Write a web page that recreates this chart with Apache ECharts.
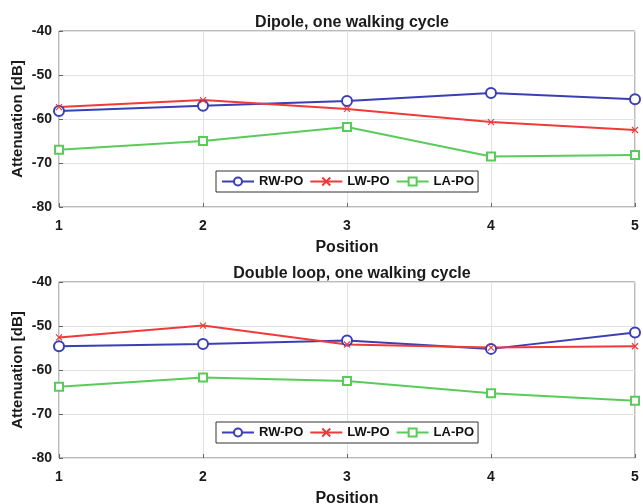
<!DOCTYPE html>
<html>
<head>
<meta charset="utf-8">
<script src="https://cdn.jsdelivr.net/npm/echarts@6/dist/echarts.min.js"></script>
<style>html,body{margin:0;padding:0;background:#fff}#c{width:643px;height:504px}</style>
</head>
<body>
<div id="c"></div>
<script>
const positions = [1, 2, 3, 4, 5];
const seriesNames = ['RW-PO', 'LW-PO', 'LA-PO'];
const titles = ['Dipole, one walking cycle', 'Double loop, one walking cycle'];
const yTicks = [-80, -70, -60, -50, -40];

const dipoleRW = [-58.2, -57.0, -55.9, -54.1, -55.5];
const dipoleLW = [-57.3, -55.7, -57.7, -60.7, -62.5];
const dipoleLA = [-67.0, -65.0, -61.8, -68.5, -68.2];

const loopRW = [-54.6, -54.1, -53.3, -55.2, -51.5];
const loopLW = [-52.6, -49.9, -54.2, -54.9, -54.6];
const loopLA = [-63.8, -61.7, -62.5, -65.3, -67.0];

const colors = ['#3a3fb3', '#f03a3a', '#5acb5a'];
const FONT = 'Liberation Sans';
const xSymbol = 'path://M0,0L10,10M10,0L0,10';
const symbols = ['emptyCircle', xSymbol, 'emptyRect'];
const symbolSizes = [10, 6, 8];
const borderWidths = [1.6, 1.2, 1.5];

const chart = echarts.init(document.getElementById('c'), null, {renderer: 'canvas'});
const grids = [
  {left: 59, width: 576, top: 31, height: 176},
  {left: 59, width: 576, top: 282, height: 176}
];
const pair = arr => positions.map((p, i) => [p, arr[i]]);
const data = [[dipoleRW, dipoleLW, dipoleLA], [loopRW, loopLW, loopLA]];

const series = [];
data.forEach((set, g) => {
  set.forEach((vals, k) => {
    series.push({
      name: seriesNames[k],
      type: 'line',
      xAxisIndex: g, yAxisIndex: g,
      data: pair(vals),
      symbol: symbols[k],
      symbolSize: symbolSizes[k],
      showAllSymbol: true,
      lineStyle: {color: colors[k], width: 2},
      itemStyle: {color: colors[k], borderColor: colors[k], borderWidth: borderWidths[k]},
      emphasis: {disabled: true},
      animation: false
    });
  });
});

const axisCommon = {
  axisLine: {show: false},
  axisTick: {show: true, inside: true, length: 4, lineStyle: {color: '#666'}},
  splitLine: {show: true, lineStyle: {color: '#e2e2e2', width: 1}},
};

chart.setOption({
  animation: false,
  title: titles.map((t, i) => ({
    text: t, left: 347, textAlign: 'center', top: i === 0 ? 10 : 261,
    textStyle: {fontFamily: FONT, fontWeight: 'bold', fontSize: 16, color: '#1a1a1a'}
  })),
  legend: [0, 1].map(g => ({
    data: seriesNames.map(n => ({name: n})),
    left: 216, top: g === 0 ? 171 : 422,
    orient: 'horizontal',
    itemWidth: 32, itemHeight: 10, itemGap: 6,
    padding: [4, 4, 4, 5],
    borderColor: '#333', borderWidth: 1, backgroundColor: '#fff',
    textStyle: {fontFamily: FONT, fontWeight: 'bold', fontSize: 13, color: '#111'},
    selectedMode: false
  })),
  grid: grids.map(g => Object.assign({
    show: true, borderColor: '#777', borderWidth: 1, backgroundColor: 'transparent',
    containLabel: false, outerBoundsMode: 'none'
  }, g)),
  xAxis: [0, 1].map(g => Object.assign({
    type: 'value', gridIndex: g, min: 1, max: 5, interval: 1,
    name: 'Position', nameLocation: 'middle', nameGap: 33,
    nameTextStyle: {fontFamily: FONT, fontWeight: 'bold', fontSize: 16, color: '#1a1a1a'},
    axisLabel: {fontFamily: FONT, fontWeight: 'bold', fontSize: 14, color: '#1a1a1a', margin: 12}
  }, axisCommon)),
  yAxis: [0, 1].map(g => Object.assign({
    type: 'value', gridIndex: g, min: yTicks[0], max: yTicks[yTicks.length - 1], interval: 10,
    name: 'Attenuation [dB]', nameLocation: 'middle', nameGap: 34, nameMoveOverlap: false,
    nameTextStyle: {fontFamily: FONT, fontWeight: 'bold', fontSize: 15, color: '#1a1a1a'},
    axisLabel: {fontFamily: FONT, fontWeight: 'bold', fontSize: 14, color: '#1a1a1a', margin: 7}
  }, axisCommon)),
  series: series
});
</script>
</body>
</html>
